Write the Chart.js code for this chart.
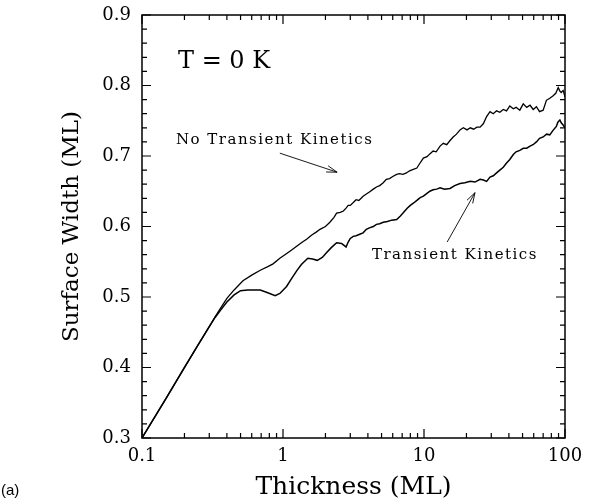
<!DOCTYPE html>
<html>
<head>
<meta charset="utf-8">
<script src="https://cdn.jsdelivr.net/npm/chart.js@4.4.1/dist/chart.umd.min.js"></script>
<style>
  html, body { margin: 0; padding: 0; background: #fff; }
  #wrap { width: 592px; height: 504px; }
</style>
</head>
<body>
<div id="wrap"><canvas id="widthChart" width="592" height="504"></canvas></div>
<script>
// thickness (ML) and surface width (ML)
var noTkX = [0.1, 0.15, 0.2, 0.25, 0.3, 0.33, 0.36, 0.4, 0.45, 0.52, 0.6, 0.69, 0.78, 0.85, 0.95,
    1.05, 1.12, 1.25, 1.35, 1.47, 1.6, 1.72, 1.83, 2.0, 2.15, 2.3, 2.4, 2.55, 2.68, 2.8, 2.9,
    3.0, 3.15, 3.3, 3.45, 3.7, 3.9, 4.1, 4.37, 4.6, 4.85, 5.14, 5.4, 5.7, 6.0, 6.4, 6.7, 7.1,
    7.5, 7.9, 8.4, 8.9, 9.3, 9.9, 10.5, 11.0, 11.6, 12.2, 13.0, 13.7, 14.5, 15.3, 16.1, 17.0,
    18.0, 19.0, 20.2, 21.3, 22.5, 23.7, 25.0, 26.4, 27.8, 29.4, 31, 32.7, 34.5, 36.5, 38.5,
    40.6, 43, 45, 47.8, 50.6, 53.5, 56.5, 59.5, 62.7, 66, 70, 73.8, 78, 82, 86, 89.5, 92, 94, 97, 100];
var noTkY = [0.300, 0.358, 0.400, 0.432, 0.458, 0.472, 0.484, 0.498, 0.510, 0.523, 0.531, 0.538, 0.543, 0.547, 0.555,
    0.561, 0.565, 0.572, 0.577, 0.582, 0.588, 0.592, 0.596, 0.600, 0.606, 0.613, 0.619, 0.620, 0.622, 0.626, 0.630,
    0.630, 0.634, 0.638, 0.637, 0.643, 0.646, 0.649, 0.653, 0.656, 0.658, 0.662, 0.667, 0.668, 0.671, 0.674, 0.675, 0.674,
    0.676, 0.679, 0.681, 0.683, 0.689, 0.697, 0.699, 0.703, 0.707, 0.706, 0.714, 0.718, 0.716, 0.722, 0.727, 0.731,
    0.737, 0.740, 0.737, 0.740, 0.738, 0.741, 0.741, 0.746, 0.756, 0.763, 0.760, 0.764, 0.762, 0.766, 0.764,
    0.771, 0.767, 0.769, 0.765, 0.774, 0.769, 0.772, 0.766, 0.770, 0.763, 0.765, 0.779, 0.782, 0.785, 0.789, 0.797, 0.792, 0.790, 0.793, 0.784];

var tkX = [0.1, 0.15, 0.2, 0.25, 0.3, 0.33, 0.36, 0.4, 0.45, 0.5, 0.56, 0.62, 0.69, 0.78, 0.88, 0.95,
    1.06, 1.15, 1.25, 1.35, 1.5, 1.62, 1.75, 1.9, 2.04, 2.2, 2.4, 2.6, 2.8, 2.9, 3.0, 3.15, 3.3,
    3.5, 3.7, 3.9, 4.1, 4.37, 4.6, 4.85, 5.14, 5.5, 5.9, 6.4, 6.8, 7.1, 7.6, 8.0, 8.4, 8.9, 9.4,
    9.9, 10.5, 11.0, 11.6, 12.3, 13.0, 14.0, 15.3, 16.5, 18.0, 19.5, 21.3, 23, 25.0, 26.4, 27.8,
    29.4, 31, 32.7, 34.5, 36.5, 38.5, 40.6, 43, 45, 47.8, 50.6, 53.5, 56.5, 59.3, 62.7, 66, 70,
    74, 78, 82, 86.8, 89, 92, 94, 97, 100];
var tkY = [0.300, 0.358, 0.400, 0.432, 0.458, 0.471, 0.481, 0.493, 0.503, 0.509, 0.510, 0.510, 0.510, 0.506, 0.502, 0.505,
    0.515, 0.526, 0.537, 0.546, 0.555, 0.554, 0.552, 0.556, 0.563, 0.570, 0.577, 0.576, 0.571, 0.578, 0.583, 0.586, 0.587,
    0.589, 0.591, 0.596, 0.598, 0.600, 0.603, 0.604, 0.606, 0.607, 0.609, 0.610, 0.615, 0.619, 0.626, 0.630, 0.633, 0.637, 0.641,
    0.643, 0.647, 0.650, 0.652, 0.653, 0.655, 0.653, 0.654, 0.658, 0.661, 0.662, 0.664, 0.663, 0.667, 0.666, 0.664,
    0.670, 0.672, 0.676, 0.680, 0.684, 0.690, 0.695, 0.702, 0.706, 0.708, 0.711, 0.711, 0.714, 0.716, 0.720, 0.725, 0.727,
    0.731, 0.730, 0.736, 0.742, 0.748, 0.751, 0.747, 0.744, 0.740];

var xTicks = [0.1, 1, 10, 100];
var xTickLabels = ['0.1', '1', '10', '100'];
var yTicks = [0.3, 0.4, 0.5, 0.6, 0.7, 0.8, 0.9];
var yTickLabels = ['0.3', '0.4', '0.5', '0.6', '0.7', '0.8', '0.9'];
var xMinor = [0.2, 0.3, 0.4, 0.5, 0.6, 0.7, 0.8, 0.9, 2, 3, 4, 5, 6, 7, 8, 9, 20, 30, 40, 50, 60, 70, 80, 90];
var yMinor = [0.32, 0.34, 0.36, 0.38, 0.42, 0.44, 0.46, 0.48, 0.52, 0.54, 0.56, 0.58, 0.62, 0.64, 0.66, 0.68,
    0.72, 0.74, 0.76, 0.78, 0.82, 0.84, 0.86, 0.88];

function toPoints(xs, ys) {
    return xs.map(function(x, i) { return { x: x, y: ys[i] }; });
}

var SERIF = '"DejaVu Serif", "Liberation Serif", serif';

// frame, inward ticks on all four sides, labels, arrows
var framePlugin = {
    id: 'frame',
    afterDraw: function(chart) {
        var c = chart.ctx, a = chart.chartArea;
        var xs = chart.scales.x, ys = chart.scales.y;
        c.save();
        c.strokeStyle = '#000';
        c.lineWidth = 1.5;
        c.strokeRect(a.left, a.top, a.right - a.left, a.bottom - a.top);
        c.lineWidth = 1.2;
        function xt(v, len) {
            var p = xs.getPixelForValue(v);
            c.beginPath();
            c.moveTo(p, a.bottom); c.lineTo(p, a.bottom - len);
            c.moveTo(p, a.top); c.lineTo(p, a.top + len);
            c.stroke();
        }
        function yt(v, len) {
            var p = ys.getPixelForValue(v);
            c.beginPath();
            c.moveTo(a.left, p); c.lineTo(a.left + len, p);
            c.moveTo(a.right, p); c.lineTo(a.right - len, p);
            c.stroke();
        }
        xTicks.forEach(function(v) { xt(v, 9); });
        xMinor.forEach(function(v) { xt(v, 5); });
        yTicks.forEach(function(v) { yt(v, 9); });
        yMinor.forEach(function(v) { yt(v, 5); });

        c.fillStyle = '#000';
        c.textBaseline = 'middle';
        c.textAlign = 'left';
        c.font = '24px ' + SERIF;
        c.fillText('T = 0 K', xs.getPixelForValue(0.18), ys.getPixelForValue(0.833));
        c.font = '15px ' + SERIF;
        c.letterSpacing = '1.5px';
        c.fillText('No Transient Kinetics', xs.getPixelForValue(0.174), ys.getPixelForValue(0.723));
        c.fillText('Transient Kinetics', xs.getPixelForValue(4.27), ys.getPixelForValue(0.56));
        c.letterSpacing = '0px';

        function arrow(x0, y0, x1, y1) {
            var ax = xs.getPixelForValue(x0), ay = ys.getPixelForValue(y0);
            var bx = xs.getPixelForValue(x1), by = ys.getPixelForValue(y1);
            var ang = Math.atan2(by - ay, bx - ax), h = 11, w = 0.3;
            c.lineWidth = 0.9;
            c.beginPath();
            c.moveTo(ax, ay); c.lineTo(bx, by);
            c.moveTo(bx - h * Math.cos(ang - w), by - h * Math.sin(ang - w));
            c.lineTo(bx, by);
            c.lineTo(bx - h * Math.cos(ang + w), by - h * Math.sin(ang + w));
            c.stroke();
        }
        arrow(0.95, 0.704, 2.42, 0.677);
        arrow(14.6, 0.578, 23, 0.648);

        c.font = '15px "Liberation Sans", Arial, sans-serif';
        c.textAlign = 'left';
        c.fillText('(a)', 1, 491);
        c.restore();
    }
};

var chart = new Chart(document.getElementById('widthChart'), {
    type: 'scatter',
    data: {
        datasets: [
            {
                label: 'No Transient Kinetics',
                data: toPoints(noTkX, noTkY),
                showLine: true,
                borderColor: '#000',
                borderWidth: 1.3,
                pointRadius: 0,
                tension: 0
            },
            {
                label: 'Transient Kinetics',
                data: toPoints(tkX, tkY),
                showLine: true,
                borderColor: '#000',
                borderWidth: 1.5,
                pointRadius: 0,
                tension: 0
            }
        ]
    },
    options: {
        responsive: false,
        animation: false,
        layout: { padding: { left: 0, right: 27, top: 15, bottom: 0 } },
        plugins: {
            legend: { display: false },
            tooltip: { enabled: false }
        },
        scales: {
            x: {
                type: 'logarithmic',
                min: 0.1,
                max: 100,
                afterBuildTicks: function(s) { s.ticks = xTicks.map(function(v) { return { value: v }; }); },
                afterFit: function(s) { s.height = 66; },
                grid: { display: false },
                border: { display: false },
                ticks: {
                    autoSkip: false,
                    maxRotation: 0,
                    color: '#000',
                    padding: 0,
                    font: { family: SERIF, size: 18 },
                    callback: function(v) { var i = xTicks.indexOf(v); return i < 0 ? '' : xTickLabels[i]; }
                },
                title: {
                    display: true,
                    text: 'Thickness (ML)',
                    color: '#000',
                    font: { family: SERIF, size: 25 },
                    padding: { top: 0, bottom: 2 }
                }
            },
            y: {
                min: 0.3,
                max: 0.9,
                afterBuildTicks: function(s) { s.ticks = yTicks.map(function(v) { return { value: v }; }); },
                afterFit: function(s) { s.width = 142; },
                grid: { display: false },
                border: { display: false },
                ticks: {
                    autoSkip: false,
                    color: '#000',
                    padding: 3,
                    font: { family: SERIF, size: 18 },
                    callback: function(v) {
                        var i = yTicks.findIndex(function(t) { return Math.abs(t - v) < 1e-9; });
                        return i < 0 ? '' : yTickLabels[i];
                    }
                },
                title: {
                    display: true,
                    text: 'Surface Width (ML)',
                    color: '#000',
                    font: { family: SERIF, size: 23 },
                    padding: { top: 58, bottom: 0 }
                }
            }
        }
    },
    plugins: [framePlugin]
});
</script>
</body>
</html>
